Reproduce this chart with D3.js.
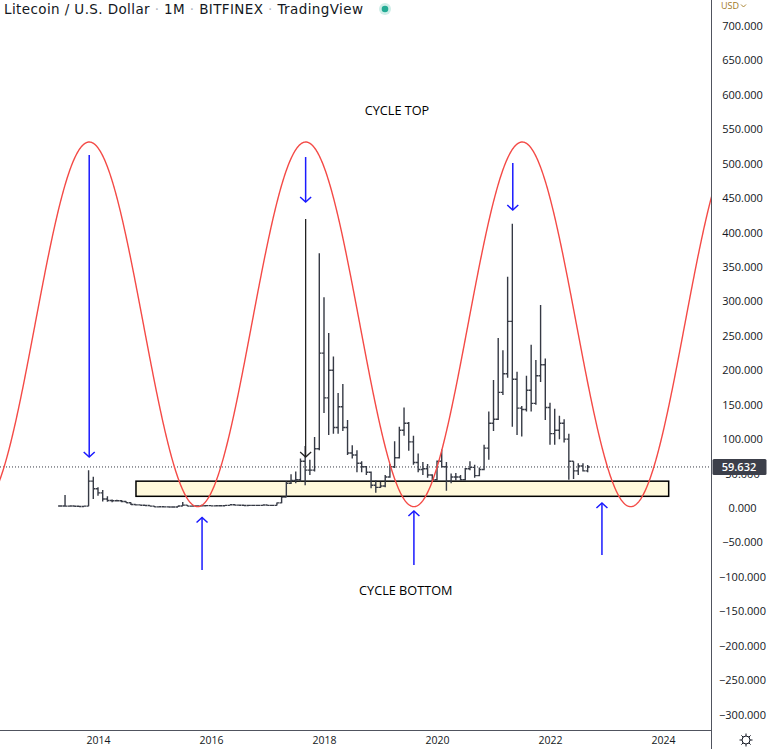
<!DOCTYPE html>
<html><head><meta charset="utf-8">
<script src="https://cdn.jsdelivr.net/npm/d3@7/dist/d3.min.js"></script>
<style>html,body{margin:0;padding:0;background:#fff;}svg{display:block;}</style>
</head><body>
<svg id="chart" width="774" height="749"></svg>
<script>
// ---------------- DATA ----------------
const months = [
"2013-05","2013-06","2013-07","2013-08","2013-09","2013-10","2013-11","2013-12",
"2014-01","2014-02","2014-03","2014-04","2014-05","2014-06","2014-07","2014-08","2014-09","2014-10","2014-11","2014-12",
"2015-01","2015-02","2015-03","2015-04","2015-05","2015-06","2015-07","2015-08","2015-09","2015-10","2015-11","2015-12",
"2016-01","2016-02","2016-03","2016-04","2016-05","2016-06","2016-07","2016-08","2016-09","2016-10","2016-11","2016-12",
"2017-01","2017-02","2017-03","2017-04","2017-05","2017-06","2017-07","2017-08","2017-09","2017-10","2017-11","2017-12",
"2018-01","2018-02","2018-03","2018-04","2018-05","2018-06","2018-07","2018-08","2018-09","2018-10","2018-11","2018-12",
"2019-01","2019-02","2019-03","2019-04","2019-05","2019-06","2019-07","2019-08","2019-09","2019-10","2019-11","2019-12",
"2020-01","2020-02","2020-03","2020-04","2020-05","2020-06","2020-07","2020-08","2020-09","2020-10","2020-11","2020-12",
"2021-01","2021-02","2021-03","2021-04","2021-05","2021-06","2021-07","2021-08","2021-09","2021-10","2021-11","2021-12",
"2022-01","2022-02","2022-03","2022-04","2022-05","2022-06","2022-07","2022-08","2022-09"];
const barOpen = [
3.0,3.0,2.8,2.9,2.6,2.3,2.8,39,
28,22,13,11,10.5,10.5,9.5,7.7,5.2,4.6,4.0,3.6,
2.7,1.7,1.9,1.7,1.4,1.4,3.0,4.2,2.8,2.9,3.1,3.4,
3.5,3.1,3.2,3.2,3.8,4.7,4.2,4.1,3.7,3.9,3.8,3.9,
4.3,3.9,3.8,7.5,15.8,36,40,41,68,55,55,86,
225,160,200,117,147,117,80,77,65,60,52,33,
30,32,45,60,73,113,123,96,66,56,57,48,
41,68,60,39,45,45,41,57,59,47,56,87,
123,129,168,195,271,187,145,143,171,152,192,208,
146,108,113,123,100,68,54,61,54];
const barHigh = [
3.6,19,3.3,3.1,2.8,3.0,55,45.5,
30,26,17,12.5,12,11.5,9.5,7.9,5.6,4.8,4.4,3.9,
2.9,2.1,2.1,1.8,1.5,3.2,8.9,4.4,3.1,3.3,4.6,4.0,
3.8,3.5,3.4,3.9,4.8,6.0,4.4,4.1,4.1,4.0,4.0,4.6,
4.6,4.1,8.0,16.5,39,49,53,72,90,70,103,370,
306,254,220,167,180,128,91,84,68,61,53,40,
38,48,64,97,118,146,125,105,79,67,64,49,
69,85,67,50,51,48,58,68,63,59,92,140,
186,247,229,336,413,198,148,192,237,215,295,217,
153,144,134,129,108,68,65,65,62.4];
const barLow = [
2.4,2.4,2.3,2.5,2.1,2.2,2.6,13,
18,9.5,9,8.5,9.5,8.5,7.2,4.3,3.8,3.7,3.2,2.6,
1.2,1.6,1.6,1.3,1.3,1.4,2.9,2.6,2.7,2.8,2.9,3.2,
3.0,3.0,3.0,3.1,3.7,3.9,3.6,3.5,3.6,3.7,3.5,3.9,
3.6,3.6,3.7,6.8,15.5,35,36,38,33,48,53,84,
138,106,108,108,112,77,72,52,52,48,28.6,22.3,
29,30,44,58,72,105,83,63,52,48,44,38,
40,59,25,36,40,40,40,55,44,46,55,70,
112,128,164,189,118,106,104,140,140,150,183,128,
92,92,100,95,41,42,48,53,52];
const barClose = [
3.0,2.8,2.9,2.6,2.3,2.8,39,28,
22,13,11,10.5,10.5,9.5,7.7,5.2,4.6,4.0,3.6,2.7,
1.7,1.9,1.7,1.4,1.4,3.0,4.2,2.8,2.9,3.1,3.4,3.5,
3.1,3.2,3.2,3.8,4.7,4.2,4.1,3.7,3.9,3.8,3.9,4.3,
3.9,3.8,7.5,15.8,36,40,41,68,55,55,86,225,
160,200,117,147,117,80,77,65,60,52,33,30,
32,45,60,73,113,123,96,66,56,57,48,41,
68,60,39,45,45,41,57,59,47,56,87,123,
129,168,195,271,187,145,143,171,152,192,208,146,
108,113,123,100,68,54,61,54,59.632];

const yTicks = [700,650,600,550,500,450,400,350,300,250,200,150,100,50,0,-50,-100,-150,-200,-250,-300];
const xTickYears = [2014,2016,2018,2020,2022,2024];
const lastPrice = 59.632;

// cycle sine annotation: alternating extrema (dates / values)
const cycleDates  = ["2011-12-05","2013-11-05","2015-10-06","2017-09-05","2019-08-04","2021-07-04","2023-06-05","2025-05-05"];
const cycleValues = [2,531.5,2,531.5,2,531.5,2,531.5];

// support zone
const zoneDates = ["2014-09-03","2024-02-07"];
const zoneValues = [17, 39];

// arrows
const arrowDates = ["2013-11-05","2017-09-04","2021-05-04","2015-11-04","2019-08-04","2022-12-02","2017-09-04"];
const arrowFrom  = [512.6, 509.7, 501, -90, -82.8, -68.3, 419.7];
const arrowTo    = [74, 444.4, 432.8, -13.8, -4.4, 7.3, 74];
const arrowKind  = ["blue","blue","blue","blue","blue","blue","black"];

const labelTexts = ["CYCLE TOP","CYCLE BOTTOM"];
const labelDates = ["2019-04-16","2019-06-12"];
const labelValues = [576.5, -120.5];

const titleParts = ["Litecoin / U.S. Dollar","1M","BITFINEX","TradingView"];

// ---------------- HELPERS ----------------
function mIndex(s){
  const p = s.split('-').map(Number);
  const y = p[0], mo = p[1], d = p[2] || 1;
  const dim = new Date(y, mo, 0).getDate();
  return (y-2014)*12 + (mo-1) + (d-1)/dim;
}

const W = 774, H = 749, plotR = 711.5, plotB = 730.5;
const x = d3.scaleLinear().domain([0,120]).range([98,663]);
const y = d3.scaleLinear().domain([-300,700]).range([714.6,26]);

const svg = d3.select("#chart");
const FONT = "'Open Sans', 'Liberation Sans', sans-serif";

svg.append("defs").append("clipPath").attr("id","plot")
  .append("rect").attr("x",0).attr("y",0).attr("width",plotR).attr("height",plotB);

const plot = svg.append("g").attr("clip-path","url(#plot)");

// zone
const zx0 = x(mIndex(zoneDates[0])), zx1 = x(mIndex(zoneDates[1]));
plot.append("rect")
  .attr("x", zx0).attr("y", y(zoneValues[1]))
  .attr("width", zx1-zx0).attr("height", y(zoneValues[0]) - y(zoneValues[1]))
  .attr("fill","#fff9dc").attr("stroke","#000").attr("stroke-width",1.5);

// price line
plot.append("line").attr("x1",0).attr("x2",plotR)
  .attr("y1",y(lastPrice)).attr("y2",y(lastPrice))
  .attr("stroke","#363a45").attr("stroke-width",1).attr("stroke-dasharray","1,2");

// OHLC bars
const tick = 2.2;
const bars = months.map((m,i)=>({m:mIndex(m), o:barOpen[i], h:barHigh[i], l:barLow[i], c:barClose[i]}));
plot.append("g").selectAll("path").data(bars).join("path")
  .attr("d", d => {
    const cx = x(d.m);
    return `M${cx},${y(d.h)}V${y(d.l)}M${cx-tick},${y(d.o)}H${cx}M${cx},${y(d.c)}H${cx+tick}`;
  })
  .attr("fill","none").attr("stroke","#363a45").attr("stroke-width",1.4);

// cycle curve
const ext = cycleDates.map(mIndex);
const pts = [];
for (let px = -2; px <= plotR + 2; px += 0.5) {
  const m = x.invert(px);
  let i = 0;
  while (i < ext.length-2 && m > ext[i+1]) i++;
  const t = (m - ext[i])/(ext[i+1]-ext[i]);
  const v = cycleValues[i] + (cycleValues[i+1]-cycleValues[i])*(1-Math.cos(Math.PI*t))/2;
  pts.push([px, y(v)]);
}
plot.append("path").attr("d", d3.line()(pts))
  .attr("fill","none").attr("stroke","#f44a46").attr("stroke-width",1.4);

// arrows
arrowDates.forEach((d,i)=>{
  const ax = x(mIndex(d)), y0 = y(arrowFrom[i]), y1 = y(arrowTo[i]);
  const dir = y1 > y0 ? 1 : -1;
  const col = arrowKind[i] === "blue" ? "#1a1aff" : "#222";
  const g = plot.append("g").attr("stroke",col).attr("fill","none").attr("stroke-width", arrowKind[i]==="blue"?1.5:1.3);
  g.append("line").attr("x1",ax).attr("x2",ax).attr("y1",y0).attr("y2",y1);
  g.append("path").attr("d",`M${ax-5.5},${y1-dir*5}L${ax},${y1}L${ax+5.5},${y1-dir*5}`);
});

// labels
labelTexts.forEach((t,i)=>{
  plot.append("text").attr("x", x(mIndex(labelDates[i]))).attr("y", y(labelValues[i]))
    .attr("dy","0.35em").attr("text-anchor","middle")
    .attr("font-family",FONT).attr("font-size",12.7).attr("fill","#000").text(t);
});

// axes frame
svg.append("line").attr("x1",plotR).attr("x2",plotR).attr("y1",0).attr("y2",H)
  .attr("stroke","#50535e").attr("stroke-width",1);
svg.append("line").attr("x1",0).attr("x2",plotR).attr("y1",plotB).attr("y2",plotB)
  .attr("stroke","#50535e").attr("stroke-width",1);

// right axis
const yAxis = d3.axisRight(y).tickValues(yTicks).tickSize(0).tickFormat(d3.format(".3f"));
const yg = svg.append("g").attr("transform",`translate(${plotR},0)`).call(yAxis);
yg.select(".domain").remove();
yg.selectAll("text").attr("x",31).attr("text-anchor","middle")
  .attr("font-family",FONT).attr("font-size",11).attr("fill","#131722");

// bottom axis
const xAxis = d3.axisBottom(x).tickValues(xTickYears.map(yr=>(yr-2014)*12)).tickSize(0)
  .tickFormat(m => String(2014 + m/12));
const xg = svg.append("g").attr("transform",`translate(0,${plotB})`).call(xAxis);
xg.select(".domain").remove();
xg.selectAll("text").attr("y",6).attr("font-family",FONT).attr("font-size",10.5).attr("fill","#131722");

// last price label
const ly = y(lastPrice);
svg.append("rect").attr("x",plotR+1).attr("y",ly-8).attr("width",54).attr("height",16)
  .attr("rx",1.5).attr("fill","#3c3f4a");
svg.append("text").attr("x",plotR+27.5).attr("y",ly).attr("dy","0.35em").attr("text-anchor","middle")
  .attr("font-family",FONT).attr("font-size",11).attr("font-weight",600).attr("fill","#fff")
  .text(d3.format(".3f")(lastPrice));

// currency label
svg.append("text").attr("x",721).attr("y",9).attr("font-family",FONT).attr("font-size",9)
  .attr("fill","#a0781e").text("USD");
svg.append("path").attr("d","M741,4.5L743.5,7L746,4.5").attr("fill","none").attr("stroke","#a0781e").attr("stroke-width",0.9);

// title
const title = svg.append("text").attr("x",4).attr("y",14).attr("font-family","'DejaVu Sans', sans-serif")
  .attr("font-size",13.5).attr("fill","#131722")
  .attr("textLength",359).attr("lengthAdjust","spacing");
titleParts.forEach((p,i)=>{
  if(i>0) title.append("tspan").attr("fill","#b2b5be").text(" · ");
  title.append("tspan").text(p);
});
svg.append("circle").attr("cx",385).attr("cy",9).attr("r",6).attr("fill","#cfeee8");
svg.append("circle").attr("cx",385).attr("cy",9).attr("r",3.3).attr("fill","#22ab94");

// gear / settings icon
const gx = 746, gy = 740;
const gear = svg.append("g").attr("stroke","#131722").attr("fill","none").attr("stroke-width",1);
gear.append("circle").attr("cx",gx).attr("cy",gy).attr("r",4);
d3.range(8).forEach(k=>{
  const a = k*Math.PI/4;
  gear.append("line").attr("x1",gx+Math.cos(a)*4).attr("y1",gy+Math.sin(a)*4)
    .attr("x2",gx+Math.cos(a)*6.5).attr("y2",gy+Math.sin(a)*6.5);
});
</script>
</body></html>
